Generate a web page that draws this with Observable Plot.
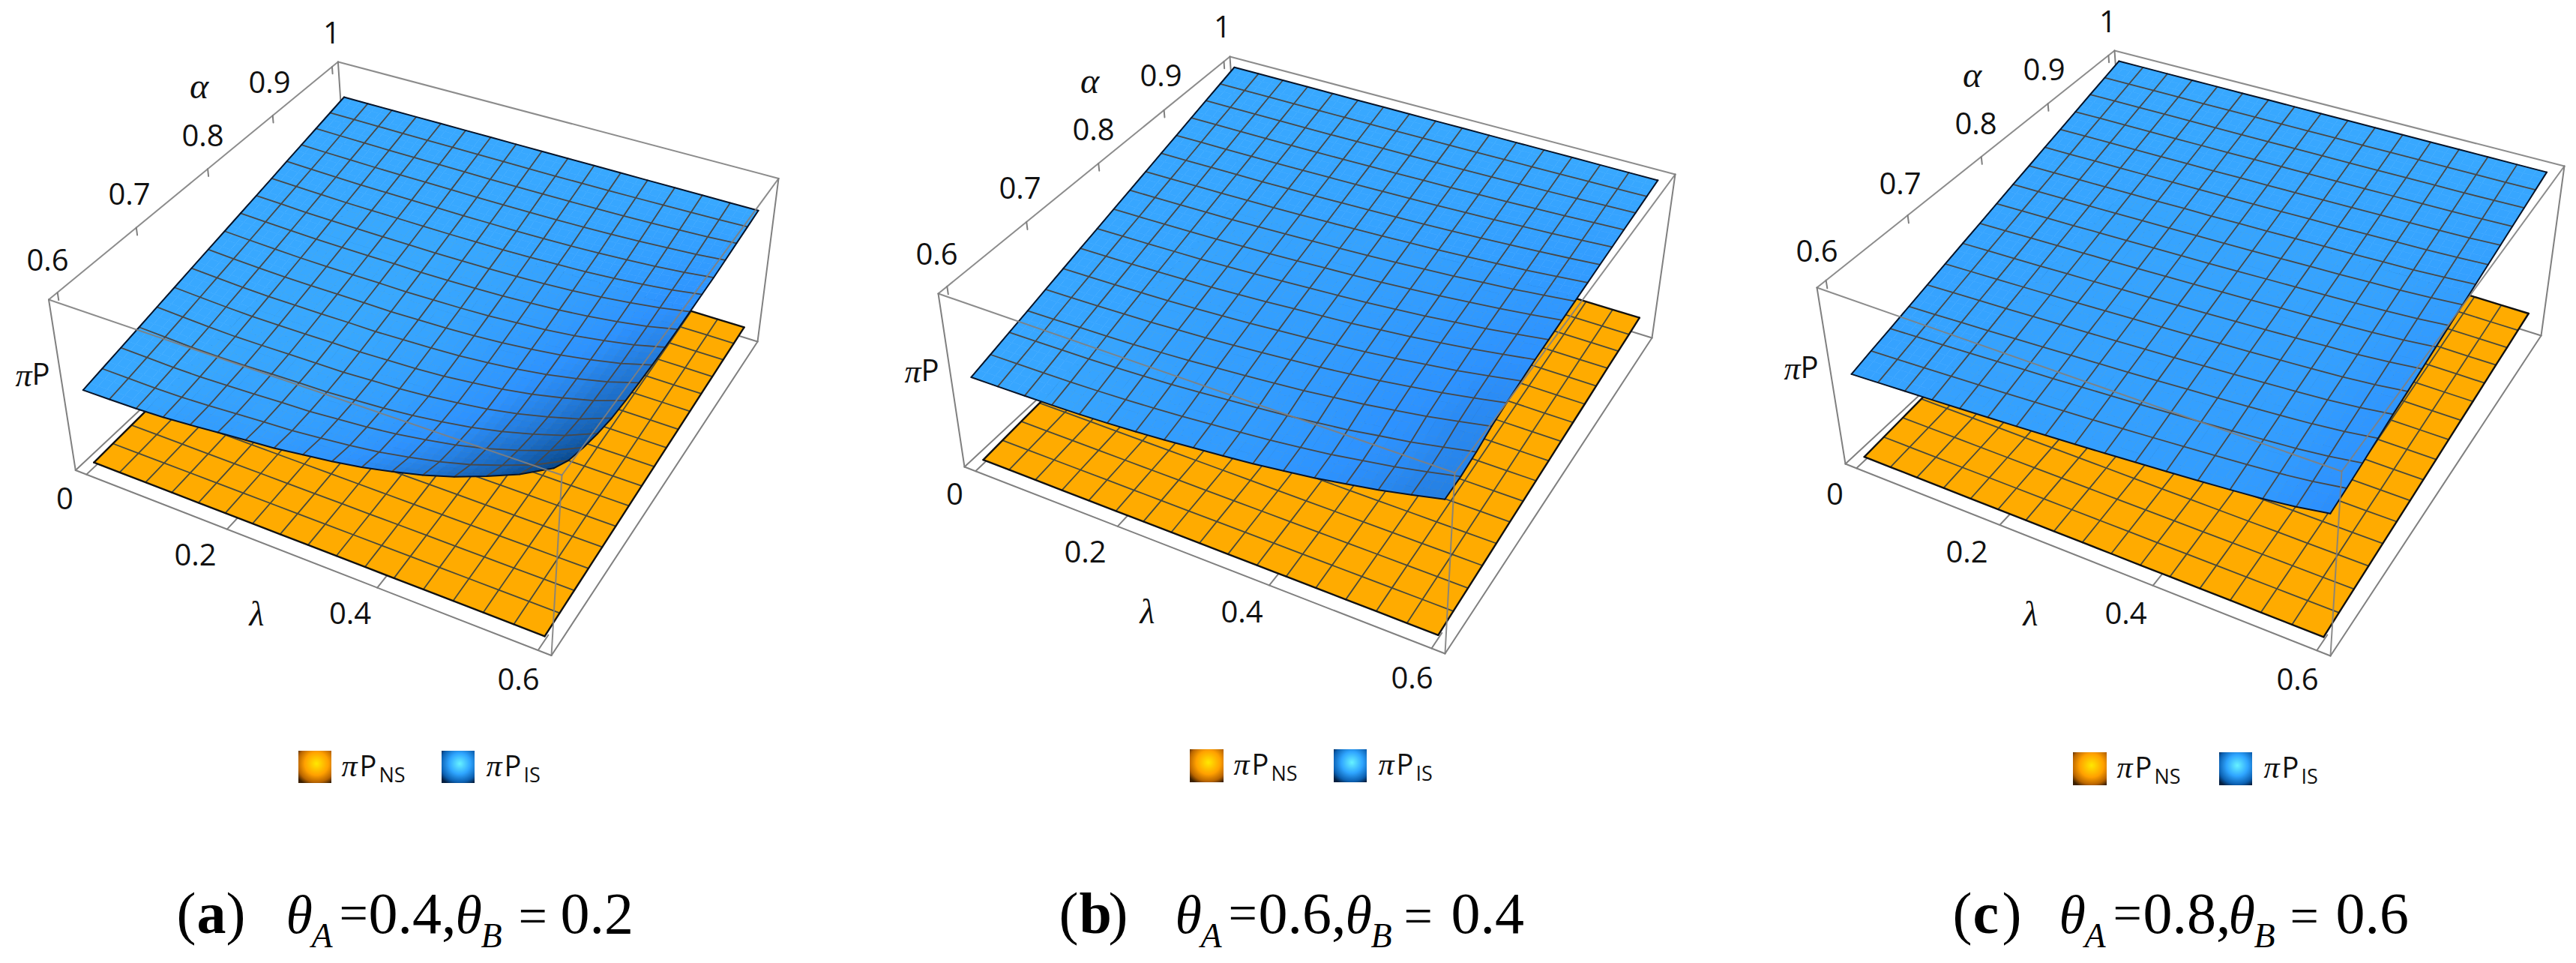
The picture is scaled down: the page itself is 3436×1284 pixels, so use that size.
<!DOCTYPE html>
<html><head><meta charset="utf-8"><style>html,body{margin:0;background:#fff}svg{display:block}</style>
<script src="https://cdn.jsdelivr.net/npm/d3@7"></script>
<script src="https://cdn.jsdelivr.net/npm/@observablehq/plot@0.6"></script>
</head><body><script>
const lambdaTicks=[0,.2,.4,.6], alphaTicks=[.6,.7,.8,.9,1];
// pi-P_IS heights, as thousandths of the box height.
// Rows run from alpha = 1 (back) to alpha = 0.6 (front); columns from lambda = 0 to 0.6.
const blueA=[
[820,820,820,820,820,820,820,820,820,820,820,820,820,820,820,820,820],
[797,796,795,794,794,794,793,793,793,793,794,795,797,799,802,805,810],
[774,772,770,768,767,767,767,766,766,767,768,770,773,777,783,790,800],
[751,747,745,742,741,741,740,739,739,740,742,745,750,756,765,775,790],
[728,723,719,716,715,714,713,712,713,713,716,720,726,735,746,760,780],
[704,699,695,691,690,689,688,687,688,689,693,699,706,717,732,750,775],
[681,676,670,667,665,664,663,662,664,666,670,677,686,700,718,740,770],
[658,652,646,642,640,639,639,637,639,642,647,656,667,683,704,729,765],
[635,628,622,617,615,615,615,613,616,619,625,636,648,667,692,721,762],
[612,604,598,593,592,592,592,590,594,598,605,617,633,654,682,715,762],
[589,581,574,570,569,569,570,569,574,579,587,601,619,643,675,713,765],
[566,558,551,546,546,547,549,548,554,560,570,587,607,634,670,712,770],
[543,535,528,524,525,527,529,530,538,545,557,576,598,629,669,716,780],
[519,513,507,505,507,512,516,518,528,538,553,575,601,636,681,733,805],
[496,492,488,488,493,499,506,511,524,537,555,581,611,651,702,761,840],
[473,471,470,472,480,490,500,508,524,541,563,594,629,674,732,797,885],
[450,452,455,462,475,490,505,518,540,562,590,627,669,722,788,862,960]];
const blueB=[
[980,980,980,980,980,980,980,980,980,980,980,980,980,980,980,980,980],
[950,950,951,951,951,952,953,954,955,956,957,959,961,963,965,967,970],
[920,920,921,922,923,924,926,928,930,932,935,938,941,945,949,955,960],
[890,891,892,893,894,896,899,902,905,909,912,917,922,928,934,942,950],
[859,861,862,864,866,869,872,876,880,885,890,896,902,911,919,929,940],
[829,831,833,835,837,841,845,850,855,861,867,875,883,893,904,916,930],
[799,801,803,806,809,813,818,824,830,837,845,854,864,876,888,904,920],
[769,771,774,777,780,785,791,798,805,813,822,833,844,859,873,891,910],
[739,741,744,748,752,757,764,772,781,789,799,812,825,841,858,878,900],
[709,712,715,719,723,729,737,746,756,766,777,791,805,824,842,865,890],
[679,682,685,690,695,701,710,719,731,742,754,770,786,806,827,853,880],
[649,652,655,660,665,672,681,691,703,715,729,745,763,785,807,835,865],
[619,622,625,630,635,643,652,663,676,689,703,721,740,764,788,818,850],
[588,591,595,599,604,612,621,633,646,659,674,693,713,738,764,796,830],
[558,560,563,566,571,578,586,598,611,624,639,658,678,705,731,764,800],
[528,530,532,535,540,547,556,567,581,595,610,630,651,679,707,742,780],
[498,500,503,507,512,520,530,543,558,573,590,612,635,665,695,733,774]];
const blueC=[
[980,980,980,980,980,980,980,980,980,980,980,980,980,980,980,980,980],
[949,950,950,951,951,952,953,953,954,955,955,956,957,958,959,960,962],
[919,920,921,922,923,924,925,926,928,929,931,932,934,936,937,940,944],
[888,890,891,893,894,896,898,900,902,904,906,908,911,913,916,920,926],
[857,860,862,864,866,868,870,873,875,878,881,884,888,891,895,900,908],
[827,829,832,834,837,840,843,846,849,853,857,860,865,869,874,881,890],
[796,799,802,805,809,812,816,819,823,827,832,837,841,847,852,861,872],
[766,769,773,776,780,784,788,793,797,802,807,813,818,825,831,841,854],
[735,739,743,747,752,756,761,766,771,777,783,789,795,802,810,821,836],
[704,709,714,718,723,728,733,739,745,751,758,765,772,780,789,801,818],
[674,679,684,689,695,700,706,712,719,726,733,741,749,758,767,781,800],
[643,649,654,660,666,672,679,686,693,700,709,717,726,736,746,761,782],
[613,619,625,631,638,645,652,659,667,675,685,694,704,714,726,742,765],
[582,588,595,601,609,616,624,632,640,649,659,668,679,690,703,721,745],
[551,558,565,572,580,588,595,604,613,622,633,643,654,667,680,699,725],
[521,528,535,543,551,559,568,577,586,596,607,619,631,644,658,678,706],
[490,498,506,514,523,532,541,551,561,572,584,596,609,623,638,660,690]];
// pi-P_NS heights by alpha row (the plane does not vary with lambda)
const orangeA=[105,100,95,90,85,80,75,70,65,60,55,50,45,40,35,30,25];
const orangeB=[140,132,125,118,110,102,95,88,80,72,65,58,50,42,35,28,20];
const orangeC=[147,139,131,123,115,107,99,91,83,75,67,60,52,44,36,28,20];
const panelTicksA=["0.4","0.2"],panelTicksB=["0.6","0.4"],panelTicksC=["0.8","0.6"];
const legendNames=["NS","IS"];
const panels=[
{id:"a",Z:blueA,O:orangeA,top:[[64.5,399],[749,633],[1038,237.5],[450.4,82]],bot:[[100.3,626.5],[735,873.5],[1010,455],[464,286]],
 labels:[[63,348],[172,260],[270,182],[359,110.6],[442,45]],lam:[[86,666],[260,741],[466.5,819],[691,907]],al:[265,115],la:[342,819],pp:[42,500],
 leg:[[398,442,1001,1044,455],[589,633,1001,1044,648]],cap:[235,381,452,491,572,607,691,747],capT:["a",...panelTicksA]},
{id:"b",Z:blueB,O:orangeB,top:[[1251,391],[1940,630],[2234,232],[1640,75]],bot:[[1286,622],[1927,871],[2203,450],[1654,280]],
 labels:[[1249,340],[1360,252],[1458,174],[1548,102],[1630,37]],lam:[[1273,660],[1447,737],[1656,817],[1883,905]],al:[1453,108],la:[1530,816],pp:[1228,495],
 leg:[[1587,1632,999,1043,1645],[1779,1823,999,1043,1838]],cap:[1412,1567,1638,1678,1760,1794,1872,1935],capT:["b",...panelTicksB]},
{id:"c",Z:blueC,O:orangeC,top:[[2423,383],[3123,628],[3420,221],[2820,67]],bot:[[2461,618],[3108,874],[3389,447],[2834,272]],
 labels:[[2423,336],[2534,246],[2635,166],[2726,94],[2811,30]],lam:[[2447,660],[2623,737],[2835,819],[3064,907]],al:[2630,100],la:[2708,819],pp:[2401,491],
 leg:[[2765,2810,1003,1047,2823],[2960,3004,1003,1047,3019]],cap:[2604,2746,2818,2858,2940,2972,3054,3115],capT:["c",...panelTicksC]}
];
function homography(q){const [p00,p10,p11,p01]=q;
 const dx1=p10[0]-p11[0],dx2=p01[0]-p11[0],sx=p00[0]-p10[0]+p11[0]-p01[0];
 const dy1=p10[1]-p11[1],dy2=p01[1]-p11[1],sy=p00[1]-p10[1]+p11[1]-p01[1];
 const den=dx1*dy2-dx2*dy1,g=(sx*dy2-dx2*sy)/den,h=(dx1*sy-sx*dy1)/den;
 const a=p10[0]-p00[0]+g*p10[0],b=p01[0]-p00[0]+h*p01[0],c=p00[0];
 const d=p10[1]-p00[1]+g*p10[1],e=p01[1]-p00[1]+h*p01[1],f=p00[1];
 return (u,v)=>{const w=g*u+h*v+1;return [(a*u+b*v+c)/w,(d*u+e*v+f)/w];};}
const uOf=l=>(l+.016)/.632, vOf=a=>(a-.5895)/.421;
const ramp=d3.scaleLinear().domain([0,.3,.55,1]).range(["#38a8ff","#2d92ff","#1f73d0","#07478c"]);
const box=[],cells=[],mesh=[];let segN=0;
panels.forEach(P=>{
 const T=homography(P.top),B=homography(P.bot);
 const raw=(u,v,z)=>{const t=T(u,v),b=B(u,v);return [b[0]+(t[0]-b[0])*z,b[1]+(t[1]-b[1])*z];};
 const proj=(l,a,z)=>raw(uOf(l),vOf(a),z);
 const Z=P.Z.map(r=>r.map(v=>v/1000)),O=P.O.map(v=>v/1000);
 const N=(i,j)=>proj(.6*i/16,1-.4*j/16,Z[j][i]);
 const NO=(i,j)=>proj(.6*i/16,1-.4*j/16,O[j]);
 const shade=(i,j)=>{const l=Math.max(i-1,0),r=Math.min(i+1,16);return Math.min(1,Math.max(0,(Z[j][r]-Z[j][l])/(r-l)/.09));};
 const seg=(k,a,b)=>{const id=segN++;box.push({k,x:a[0],y:a[1],id},{k,x:b[0],y:b[1],id});};
 seg("back",P.top[3],P.bot[3]);seg("back",P.bot[3],P.bot[2]);seg("back",P.bot[3],P.bot[0]);seg("back",P.top[0],P.bot[0]);seg("back",P.bot[0],P.bot[1]);seg("back",P.bot[1],P.bot[2]);seg("back",P.bot[2],P.top[2]);
 seg("front",P.top[0],P.top[1]);seg("front",P.top[1],P.top[2]);seg("front",P.top[2],P.top[3]);seg("front",P.top[3],P.top[0]);seg("front",P.top[1],P.bot[1]);
 for(const a of alphaTicks){seg("back",raw(0,vOf(a),1),raw(0,vOf(a),.955));}
 for(const l of lambdaTicks){seg("back",raw(uOf(l),0,0),raw(uOf(l),.04,0));}
 for(let j=0;j<16;j++)for(let i=0;i<16;i++){const id=P.id+"o"+i+"-"+j;[NO(i,j),NO(i+1,j),NO(i+1,j+1),NO(i,j+1)].forEach(p=>cells.push({layer:"o",id,x:p[0],y:p[1]}));}
 for(let j=0;j<16;j++)for(let i=0;i<16;i++){
  const a=N(i,j),b=N(i+1,j),c=N(i+1,j+1),d=N(i,j+1);
  const sa=shade(i,j),sb=shade(i+1,j),sc=shade(i+1,j+1),sd=shade(i,j+1),K=3;
  const bl=(p,q,r,s,u,v)=>(1-u)*(1-v)*p+u*(1-v)*q+u*v*r+(1-u)*v*s;
  for(let y=0;y<K;y++)for(let x=0;x<K;x++){const id=P.id+"b"+i+"-"+j+"-"+x+"-"+y;const sh=bl(sa,sb,sc,sd,(x+.5)/K,(y+.5)/K);
   [[x,y],[x+1,y],[x+1,y+1],[x,y+1]].forEach(([m,n])=>{const u=m/K,v=n/K;cells.push({layer:"b",id,shade:sh,x:bl(a[0],b[0],c[0],d[0],u,v),y:bl(a[1],b[1],c[1],d[1],u,v)});});}
 }
 const addMesh=(layer,f)=>{for(let i=0;i<=16;i++)for(let j=0;j<=16;j++){const p=f(i,j),edge=(i==0||i==16);mesh.push({layer,edge,id:P.id+layer+"v"+i,x:p[0],y:p[1]});}
  for(let j=0;j<=16;j++)for(let i=0;i<=16;i++){const p=f(i,j),edge=(j==0||j==16);mesh.push({layer,edge,id:P.id+layer+"h"+j,x:p[0],y:p[1]});}};
 addMesh("o",NO);addMesh("b",N);
});
const G={num:[],alpha:[],lam:[],pi:[],P:[],legP:[],legSub:[],legPi:[],cap:[],capEq:[],capB:[],capI:[],capSub:[]};
const legS=[];
panels.forEach(P=>{
 alphaTicks.forEach((a,k)=>G.num.push({t:String(a),x:P.labels[k][0],y:P.labels[k][1]}));
 lambdaTicks.forEach((a,k)=>G.num.push({t:String(a),x:P.lam[k][0],y:P.lam[k][1]}));
 G.alpha.push({t:"α",x:P.al[0],y:P.al[1]});G.lam.push({t:"λ",x:P.la[0],y:P.la[1]});
 G.pi.push({t:"π",x:P.pp[0],y:P.pp[1]});G.P.push({t:"P",x:P.pp[0],y:P.pp[1]});
 P.leg.forEach((L,k)=>{legS.push({x1:L[0],x2:L[1],y1:L[2],y2:L[3],g:k?"url(#gb)":"url(#go)"});
  const by=L[2]+33;
  G.legPi.push({t:"π",x:L[4],y:by});G.legP.push({t:"P",x:L[4]+24,y:by});G.legSub.push({t:legendNames[k],x:L[4]+50,y:by+8});});
 const c=P.cap,by=1243;
 G.cap.push({t:"(",x:c[0],y:by});G.capB.push({t:P.capT[0],x:c[0]+27,y:by});G.cap.push({t:")",x:c[0]+66,y:by});
 G.capI.push({t:"θ",x:c[1],y:by});G.capSub.push({t:"A",x:c[1]+34,y:by+19});G.capEq.push({t:"=",x:c[2],y:by-4});G.cap.push({t:P.capT[1]+",",x:c[3],y:by});
 G.capI.push({t:"θ",x:c[5],y:by});G.capSub.push({t:"B",x:c[5]+34,y:by+19});G.capEq.push({t:"=",x:c[6],y:by});G.cap.push({t:P.capT[2],x:c[7],y:by});
});
const tx=(d,o)=>Plot.text(d,{x:"x",y:"y",text:"t",fill:"#111",lineAnchor:"bottom",...o});
const sans="'Open Sans'",serif="'Liberation Serif'";
const plot=Plot.plot({width:3436,height:1284,margin:0,style:{background:"#fff"},
 x:{domain:[0,3436],range:[0,3436],axis:null},y:{domain:[0,1284],range:[0,1284],axis:null},
 color:{type:"linear",domain:[0,1],interpolate:t=>ramp(t)},
 marks:[
 ()=>{const s=d3.create("svg:defs");
  const g=(id,st)=>{const r=s.append("radialGradient").attr("id",id).attr("cx",.55).attr("cy",.4).attr("r",.72);st.forEach(([o,c])=>r.append("stop").attr("offset",o).attr("stop-color",c));};
  g("go",[[0,"#ffe800"],[.5,"#ffa000"],[.8,"#b86400"],[1,"#3c2000"]]);g("gb",[[0,"#66f2ff"],[.45,"#2fa5ff"],[.8,"#0b5fb0"],[1,"#041f40"]]);return s.node();},
 Plot.line(box.filter(d=>d.k=="back"),{x:"x",y:"y",z:"id",stroke:"#808080",strokeWidth:2}),
 Plot.line(cells.filter(d=>d.layer=="o"),{x:"x",y:"y",z:"id",fill:"#ffab00",stroke:"#ffab00",strokeWidth:.5,curve:"linear-closed"}),
 Plot.line(mesh.filter(d=>d.layer=="o"&&!d.edge),{x:"x",y:"y",z:"id",stroke:"#4a4a3a",strokeWidth:1.8}),
 Plot.line(mesh.filter(d=>d.layer=="o"&&d.edge),{x:"x",y:"y",z:"id",stroke:"#111",strokeWidth:2.4}),
 Plot.line(cells.filter(d=>d.layer=="b"),{x:"x",y:"y",z:"id",fill:"shade",stroke:"shade",strokeWidth:.6,curve:"linear-closed"}),
 Plot.line(mesh.filter(d=>d.layer=="b"&&!d.edge),{x:"x",y:"y",z:"id",stroke:"#484848",strokeWidth:1.8}),
 Plot.line(mesh.filter(d=>d.layer=="b"&&d.edge),{x:"x",y:"y",z:"id",stroke:"#081428",strokeWidth:2}),
 Plot.line(box.filter(d=>d.k=="front"),{x:"x",y:"y",z:"id",stroke:"#808080",strokeOpacity:.9,strokeWidth:2}),
 tx(G.num,{fontFamily:sans,fontSize:40,lineAnchor:"middle"}),
 tx(G.alpha,{fontFamily:serif,fontStyle:"italic",fontSize:48,lineAnchor:"middle"}),
 tx(G.lam,{fontFamily:serif,fontStyle:"italic",fontSize:46,lineAnchor:"middle"}),
 tx(G.pi,{fontFamily:serif,fontStyle:"italic",fontSize:44,lineAnchor:"middle",textAnchor:"end"}),
 tx(G.P,{fontFamily:sans,fontSize:40,lineAnchor:"middle",textAnchor:"start"}),
 Plot.rect(legS,{x1:"x1",x2:"x2",y1:"y1",y2:"y2",fill:"g"}),
 tx(G.legPi,{fontFamily:serif,fontStyle:"italic",fontSize:42,textAnchor:"start"}),
 tx(G.legP,{fontFamily:sans,fontSize:38,textAnchor:"start"}),
 tx(G.legSub,{fontFamily:sans,fontSize:27,textAnchor:"start"}),
 tx(G.cap,{fontFamily:serif,fontSize:78,textAnchor:"start",fill:"#000"}),
 tx(G.capEq,{fontFamily:serif,fontSize:68,textAnchor:"start",fill:"#000"}),
 tx(G.capB,{fontFamily:serif,fontSize:78,fontWeight:"bold",textAnchor:"start",fill:"#000"}),
 tx(G.capI,{fontFamily:serif,fontStyle:"italic",fontSize:72,textAnchor:"start",fill:"#000"}),
 tx(G.capSub,{fontFamily:serif,fontStyle:"italic",fontSize:46,textAnchor:"start",fill:"#000"})
 ]});
document.body.appendChild(plot);
</script></body></html>
